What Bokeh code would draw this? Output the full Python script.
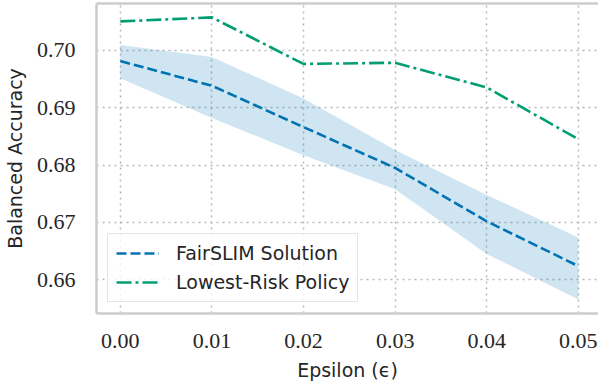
from bokeh.plotting import figure
from bokeh.models import Range1d, FixedTicker, LinearAxis, ColumnDataSource
from bokeh.embed import file_html
from bokeh.resources import INLINE

# ---- data ----
epsilon = [0.00, 0.01, 0.02, 0.03, 0.04, 0.05]
fairslim_mean = [0.6981, 0.6938, 0.6866, 0.6795, 0.6702, 0.6624]
fairslim_upper = [0.7009, 0.6988, 0.6916, 0.6826, 0.6748, 0.6674]
fairslim_lower = [0.6951, 0.6882, 0.6817, 0.6758, 0.6645, 0.6566]
lowest_risk = [0.7050, 0.7057, 0.6976, 0.6978, 0.6935, 0.6845]

x_ticks = [0.00, 0.01, 0.02, 0.03, 0.04, 0.05]
x_tick_labels = ["0.00", "0.01", "0.02", "0.03", "0.04", "0.05"]
y_ticks = [0.66, 0.67, 0.68, 0.69, 0.70]
y_tick_labels = ["0.66", "0.67", "0.68", "0.69", "0.70"]

series_labels = ["FairSLIM Solution", "Lowest-Risk Policy"]

BLUE = "#0173b2"
GREEN = "#029e73"
BORDER = "#cccccc"
TEXT = "#262626"

src = ColumnDataSource(dict(x=epsilon, mean=fairslim_mean, up=fairslim_upper,
                            lo=fairslim_lower, lr=lowest_risk))

p = figure(width=598, height=383, output_backend="svg", toolbar_location=None,
           x_range=Range1d(-0.0026, 0.0522), y_range=Range1d(0.65415, 0.70812),
           min_border_left=94, min_border_right=0, min_border_top=3, min_border_bottom=0)
p.outline_line_color = None
p.background_fill_color = "white"
p.border_fill_color = "white"

p.varea(x="x", y1="lo", y2="up", source=src, fill_color=BLUE, fill_alpha=0.19)
p.line(x="x", y="mean", source=src, line_color=BLUE, line_width=2.6,
       line_dash="10 4", legend_label=series_labels[0])
p.line(x="x", y="lr", source=src, line_color=GREEN, line_width=2.6,
       line_dash="15 4 3 4", legend_label=series_labels[1])

# axes
for ax in (p.xaxis[0], p.yaxis[0]):
    ax.axis_line_color = BORDER
    ax.axis_line_width = 2.5
    ax.major_tick_line_color = None
    ax.minor_tick_line_color = None
    ax.major_label_text_font = "Liberation Serif"
    ax.major_label_text_font_size = "22px"
    ax.major_label_text_color = TEXT
    ax.axis_label_text_font = "DejaVu Sans"
    ax.axis_label_text_font_size = "19px"
    ax.axis_label_text_font_style = "normal"
    ax.axis_label_text_color = TEXT

p.xaxis.ticker = FixedTicker(ticks=x_ticks)
p.xaxis.major_label_overrides = dict(zip(x_ticks, x_tick_labels))
p.yaxis.ticker = FixedTicker(ticks=y_ticks)
p.yaxis.major_label_overrides = dict(zip(y_ticks, y_tick_labels))
p.xaxis.axis_label = "Epsilon (\u03f5)"
p.yaxis.axis_label = "Balanced Accuracy"
p.xaxis.major_label_standoff = 14
p.yaxis.major_label_standoff = 15
p.xaxis.axis_label_standoff = 8
p.yaxis.axis_label_standoff = 8

top = LinearAxis(ticker=FixedTicker(ticks=[]), axis_line_color=BORDER, axis_line_width=2.5,
                 major_tick_out=0, major_tick_in=0, minor_tick_out=0, minor_tick_in=0,
                 major_label_standoff=0, major_label_text_font_size="0px")
p.add_layout(top, "above")

# grid
for g in (p.xgrid[0], p.ygrid[0]):
    g.grid_line_color = "#b8b8b8"
    g.grid_line_width = 1.5
    g.grid_line_dash = "2 4"
p.xgrid.ticker = FixedTicker(ticks=x_ticks)
p.ygrid.ticker = FixedTicker(ticks=y_ticks)

# legend
lg = p.legend[0]
lg.location = "bottom_left"
lg.margin = 11
lg.padding = 8
lg.spacing = 7
lg.glyph_width = 43
lg.glyph_height = 20
lg.label_height = 20
lg.label_standoff = 17
lg.label_text_font = "DejaVu Sans"
lg.label_text_font_size = "19px"
lg.label_text_color = TEXT
lg.border_line_color = BORDER
lg.border_line_width = 1.5
lg.background_fill_alpha = 0.8

open("out.html", "w").write(file_html(p, INLINE))
